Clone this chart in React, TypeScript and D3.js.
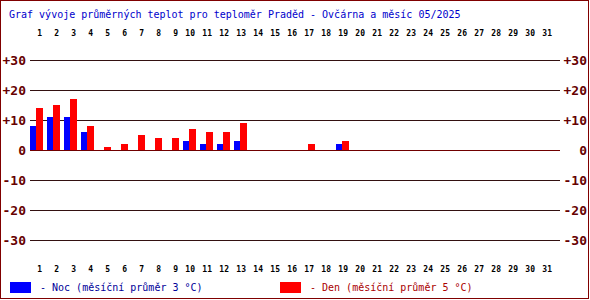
import { useEffect, useRef } from "react"
import * as d3 from "d3"

// Day numbers and daily averages (°C), null = no measurement
const days = d3.range(1, 32)
const nightTemps: (number | null)[] = [
  8, 11, 11, 6, 0, 0, 0, 0, 0, 3, 2, 2, 3, null, null, null, 0, null, 2,
  null, null, null, null, null, null, null, null, null, null, null, null,
]
const dayTemps: (number | null)[] = [
  14, 15, 17, 8, 1, 2, 5, 4, 4, 7, 6, 6, 9, null, null, null, 2, null, 3,
  null, null, null, null, null, null, null, null, null, null, null, null,
]
const yTicks = [30, 20, 10, 0, -10, -20, -30]
const title = "Graf vývoje průměrných teplot pro teploměr Praděd - Ovčárna a měsíc 05/2025"
const nightLabel = "- Noc (měsíční průměr 3 °C)"
const dayLabel = "- Den (měsíční průměr 5 °C)"

const App = () => {
  const svgRef = useRef<SVGSVGElement>(null)

  useEffect(() => {
    if (!svgRef.current) return
    const svg = d3.select(svgRef.current)
    svg.selectAll("*").remove()

    const width = 590
    const height = 300
    const mono = "'DejaVu Sans Mono', monospace"

    // slot of 17px per day starting at x=30
    const xScale = d3
      .scaleBand<number>()
      .domain(days)
      .range([30, 30 + 17 * days.length])

    const yScale = d3.scaleLinear().domain([-30, 30]).range([240, 60])

    svg.append("rect").attr("width", width).attr("height", height).attr("fill", "white")

    // border
    svg
      .append("rect")
      .attr("x", 0.5)
      .attr("y", 0.5)
      .attr("width", 588)
      .attr("height", 298)
      .attr("fill", "none")
      .attr("stroke", "#800000")

    // title
    svg
      .append("text")
      .attr("x", 9)
      .attr("y", 18)
      .attr("font-family", mono)
      .attr("font-size", "10px")
      .attr("fill", "#0000cc")
      .text(title)

    // grid lines
    svg
      .selectAll(".grid")
      .data(yTicks)
      .enter()
      .append("line")
      .attr("x1", 30)
      .attr("x2", 560)
      .attr("y1", (d) => yScale(d) + 0.5)
      .attr("y2", (d) => yScale(d) + 0.5)
      .attr("stroke", (d) => (d === 0 ? "#700000" : "#331111"))
      .attr("stroke-width", 1)

    // y labels left and right
    const fmt = (d: number) => (d > 0 ? `+${d}` : `${d}`)
    ;[
      { x: 26, anchor: "end" },
      { x: 587, anchor: "end" },
    ].forEach((side) => {
      svg
        .selectAll(null)
        .data(yTicks)
        .enter()
        .append("text")
        .attr("x", side.x)
        .attr("y", (d) => yScale(d) + 5)
        .attr("text-anchor", side.anchor)
        .attr("font-family", mono)
        .attr("font-weight", "bold")
        .attr("font-size", "13px")
        .attr("fill", "#660000")
        .text(fmt)
    })

    // day labels top and bottom
    ;[36, 272].forEach((yy) => {
      svg
        .selectAll(null)
        .data(days)
        .enter()
        .append("text")
        .attr("x", (d) => (xScale(d) || 0) + 12)
        .attr("y", yy)
        .attr("text-anchor", "end")
        .attr("font-family", mono)
        .attr("font-weight", "bold")
        .attr("font-size", "8px")
        .attr("fill", "#000")
        .text((d) => d)
    })

    // bars
    const barData = (vals: (number | null)[]) =>
      days.map((d, i) => ({ day: d, v: vals[i] })).filter((e) => e.v !== null) as { day: number; v: number }[]

    svg
      .selectAll(".night")
      .data(barData(nightTemps))
      .enter()
      .append("rect")
      .attr("x", (d) => xScale(d.day) || 0)
      .attr("width", 6)
      .attr("y", (d) => Math.min(yScale(d.v), yScale(0)))
      .attr("height", (d) => Math.abs(yScale(0) - yScale(d.v)))
      .attr("fill", "#0000ff")

    svg
      .selectAll(".day")
      .data(barData(dayTemps))
      .enter()
      .append("rect")
      .attr("x", (d) => (xScale(d.day) || 0) + 6)
      .attr("width", 7)
      .attr("y", (d) => Math.min(yScale(d.v), yScale(0)))
      .attr("height", (d) => Math.abs(yScale(0) - yScale(d.v)))
      .attr("fill", "#ff0000")

    // legend
    const legend = [
      { x: 10, color: "#0000ff", text: nightLabel, textColor: "#000099" },
      { x: 280, color: "#ff0000", text: dayLabel, textColor: "#aa0000" },
    ]
    legend.forEach((l) => {
      svg.append("rect").attr("x", l.x).attr("y", 282).attr("width", 21).attr("height", 11).attr("fill", l.color)
      svg
        .append("text")
        .attr("x", l.x + 30)
        .attr("y", 291)
        .attr("font-family", mono)
        .attr("font-size", "10px")
        .attr("fill", l.textColor)
        .text(l.text)
    })
  }, [])

  return (
    <svg
      ref={svgRef}
      width={590}
      height={300}
      style={{ position: "absolute", left: 0, top: 0 }}
    ></svg>
  )
}

export default App
